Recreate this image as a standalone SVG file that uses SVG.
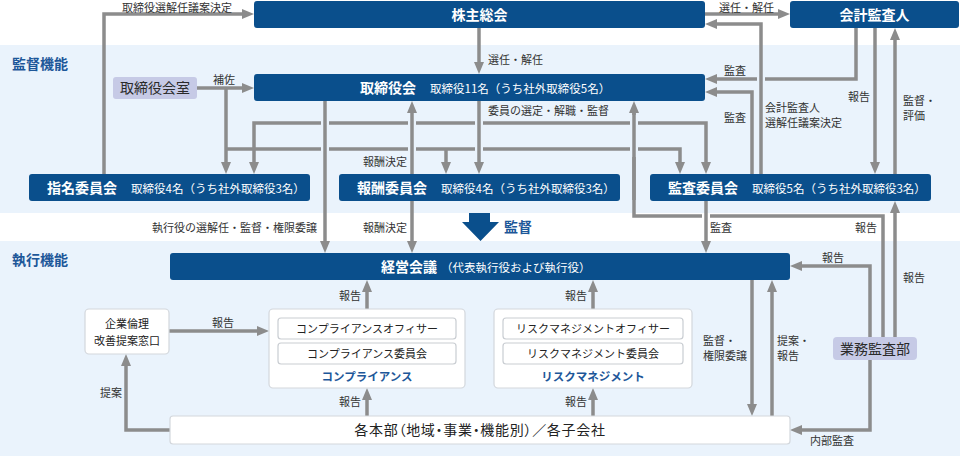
<svg xmlns="http://www.w3.org/2000/svg" width="960" height="456" viewBox="0 0 960 456">
<defs>
<style>
text{font-family:"Noto Sans CJK JP","Noto Sans",sans-serif;}
.band{fill:#eaf3fc;}
.sec{font-size:14px;font-weight:bold;fill:#1d5799;}
.nb{fill:#0a4f8c;}
.nt{font-size:14px;font-weight:bold;fill:#ffffff;}
.ns{font-size:11.5px;fill:#ffffff;}
.lav{fill:#c6cae6;}
.lt{font-size:14px;fill:#2a2a2a;}
.wb{fill:#ffffff;stroke:#d3d7dc;stroke-width:1.2;}
.ib{fill:#ffffff;stroke:#c9cdd2;stroke-width:1.2;}
.it{font-size:11px;fill:#222;}
.ct{font-size:11.5px;font-weight:bold;fill:#1d5799;}
.lbl{font-size:11px;fill:#333;}
.c{fill:none;stroke:#8c8c8c;stroke-width:3.5;}
.ca{fill:none;stroke:#8c8c8c;stroke-width:3.5;marker-end:url(#ah);}
.cb{fill:none;stroke:#8c8c8c;stroke-width:3.5;marker-end:url(#ah);marker-start:url(#ahs);}
.halo{fill:none;stroke:#eaf3fc;stroke-width:8;}
.haloW{fill:none;stroke:#ffffff;stroke-width:8;}
</style>
<marker id="ah" markerWidth="12" markerHeight="10" refX="0" refY="5" orient="auto" markerUnits="userSpaceOnUse" viewBox="0 0 12 10"><path d="M0,0 L12,5 L0,10 z" fill="#8c8c8c"/></marker>
<marker id="ahs" markerWidth="12" markerHeight="10" refX="0" refY="5" orient="auto-start-reverse" markerUnits="userSpaceOnUse" viewBox="0 0 12 10"><path d="M0,0 L12,5 L0,10 z" fill="#8c8c8c"/></marker>
</defs>

<rect x="0" y="0" width="960" height="456" fill="#ffffff"/>
<rect class="band" x="0" y="45" width="960" height="168"/>
<rect class="band" x="0" y="241" width="960" height="215"/>
<text class="sec" x="12" y="69">監督機能</text>
<text class="sec" x="12" y="265">執行機能</text>

<g id="connectors">
<path class="ca" d="M104,174 V14 H242"/>
<path class="ca" d="M479,28 V62"/>
<path class="ca" d="M705,14 H778"/>
<path class="ca" d="M856,28 V79 H717"/>
<path class="ca" d="M752,174 V92 H717"/>
<path class="ca" d="M875,28 V162"/>
<path class="ca" d="M895,174 V40"/>
<path class="cb" d="M254,162 V123 H706 V162"/>
<path class="ca" d="M197,88 H242"/>
<path class="ca" d="M226,88 V162"/>
<path class="ca" d="M226,149 H680 V162"/>
<path class="ca" d="M446,149 V162"/>
<path class="ca" d="M883,337 V216 H634 V113"/>
<path class="halo" d="M325,115 V157"/>
<path class="halo" d="M412,115 V157"/>
<path class="halo" d="M479,115 V157"/>
<path class="halo" d="M634,115 V157"/>
<path class="halo" d="M761,70 V88"/>
<path class="haloW" d="M706,213.5 V219"/>
<path class="ca" d="M761,174 V24 H717"/>
<path class="ca" d="M479,101 V162"/>
<path class="ca" d="M325,101 V241"/>
<path class="ca" d="M412,174 V113"/>
<path class="ca" d="M412,201 V241"/>
<path class="ca" d="M706,201 V241"/>
<path class="c" d="M634,200 V113"/>
<path class="ca" d="M895,337 V213"/>
<path class="ca" d="M870,337 V266 H802"/>
<path class="ca" d="M870,360 V430 H802"/>
<path class="ca" d="M752,280 V404"/>
<path class="ca" d="M772,416 V292"/>
<path class="ca" d="M367,309 V292"/>
<path class="ca" d="M367,416 V400"/>
<path class="ca" d="M593,309 V292"/>
<path class="ca" d="M593,416 V400"/>
<path class="ca" d="M169,331 H257"/>
<path class="ca" d="M170,430 H126 V366"/>

<text class="lbl" x="122" y="12">取締役選解任議案決定</text>
<text class="lbl" x="719" y="12">選任・解任</text>
<text class="lbl" x="488" y="64">選任・解任</text>
<text class="lbl" x="213" y="84">補佐</text>
<text class="lbl" x="724" y="75">監査</text>
<text class="lbl" x="724" y="122">監査</text>
<text class="lbl" x="765" y="112">会計監査人</text>
<text class="lbl" x="765" y="127">選解任議案決定</text>
<text class="lbl" x="848" y="101">報告</text>
<text class="lbl" x="903" y="105">監督・</text>
<text class="lbl" x="903" y="120">評価</text>
<text class="lbl" x="488" y="115">委員の選定・解職・監督</text>
<text class="lbl" x="363" y="166">報酬決定</text>
<text class="lbl" x="152" y="232">執行役の選解任・監督・権限委譲</text>
<text class="lbl" x="363" y="232">報酬決定</text>
<text class="lbl" x="710" y="232">監査</text>
<text class="lbl" x="855" y="232">報告</text>
<text class="lbl" x="822" y="262">報告</text>
<text class="lbl" x="903" y="282">報告</text>
<text class="lbl" x="703" y="345">監督・</text>
<text class="lbl" x="703" y="360">権限委譲</text>
<text class="lbl" x="777" y="345">提案・</text>
<text class="lbl" x="777" y="360">報告</text>
<text class="lbl" x="339" y="300">報告</text>
<text class="lbl" x="339" y="406">報告</text>
<text class="lbl" x="565" y="300">報告</text>
<text class="lbl" x="565" y="406">報告</text>
<text class="lbl" x="212" y="327">報告</text>
<text class="lbl" x="100" y="397">提案</text>
<text class="lbl" x="810" y="445">内部監査</text>
</g>

<g id="kansa-arrow">
<path d="M469,213 H490 V222 H499 L480.5,241 L462,222 H469 Z" fill="#0a4f8c"/>
<text class="sec" x="504" y="232">監督</text>
</g>

<g id="kabunushi">
<rect class="nb" x="254" y="1" width="451" height="27" rx="3"/>
<text class="nt" x="479.5" y="19.5" text-anchor="middle">株主総会</text>
</g>
<g id="kaikei">
<rect class="nb" x="790" y="1" width="169" height="27" rx="3"/>
<text class="nt" x="874.5" y="19.5" text-anchor="middle">会計監査人</text>
</g>
<g id="torishimariyakukai">
<rect class="nb" x="254" y="74" width="451" height="27" rx="3"/>
<text x="360" y="92.5"><tspan class="nt">取締役会</tspan><tspan class="ns" dx="14">取締役11名（うち社外取締役5名）</tspan></text>
</g>
<g id="torishitsu">
<rect class="lav" x="113" y="77" width="84" height="22" rx="3"/>
<text class="lt" x="155" y="93" text-anchor="middle">取締役会室</text>
</g>
<g id="shimei">
<rect class="nb" x="29" y="174" width="281" height="27" rx="3"/>
<text x="47" y="192.5"><tspan class="nt">指名委員会</tspan><tspan class="ns" dx="14">取締役4名（うち社外取締役3名）</tspan></text>
</g>
<g id="hoshu">
<rect class="nb" x="339" y="174" width="281" height="27" rx="3"/>
<text x="357" y="192.5"><tspan class="nt">報酬委員会</tspan><tspan class="ns" dx="14">取締役4名（うち社外取締役3名）</tspan></text>
</g>
<g id="kansa">
<rect class="nb" x="650" y="174" width="281" height="27" rx="3"/>
<text x="668" y="192.5"><tspan class="nt">監査委員会</tspan><tspan class="ns" dx="14">取締役5名（うち社外取締役3名）</tspan></text>
</g>
<g id="keiei">
<rect class="nb" x="170" y="253" width="620" height="27" rx="3"/>
<text x="381" y="271.5"><tspan class="nt">経営会議</tspan><tspan class="ns" dx="4">（代表執行役および執行役）</tspan></text>
</g>
<g id="kigyorinri">
<rect class="wb" x="85" y="309" width="84" height="45" rx="4"/>
<text class="it" x="127" y="328" text-anchor="middle">企業倫理</text>
<text class="it" x="127" y="345" text-anchor="middle">改善提案窓口</text>
</g>
<g id="compliance">
<rect class="wb" x="269" y="309" width="196" height="79" rx="4"/>
<rect class="ib" x="278" y="318" width="178" height="21" rx="3"/>
<text class="it" x="367" y="332.5" text-anchor="middle">コンプライアンスオフィサー</text>
<rect class="ib" x="278" y="343" width="178" height="21" rx="3"/>
<text class="it" x="367" y="357.5" text-anchor="middle">コンプライアンス委員会</text>
<text class="ct" x="367" y="380.5" text-anchor="middle">コンプライアンス</text>
</g>
<g id="risk">
<rect class="wb" x="494" y="309" width="198" height="79" rx="4"/>
<rect class="ib" x="503" y="318" width="180" height="21" rx="3"/>
<text class="it" x="593" y="332.5" text-anchor="middle">リスクマネジメントオフィサー</text>
<rect class="ib" x="503" y="343" width="180" height="21" rx="3"/>
<text class="it" x="593" y="357.5" text-anchor="middle">リスクマネジメント委員会</text>
<text class="ct" x="593" y="380.5" text-anchor="middle">リスクマネジメント</text>
</g>
<g id="honbu">
<rect class="wb" x="170" y="416" width="620" height="28" rx="3"/>
<text x="480" y="435" text-anchor="middle" style="font-size:14px;fill:#222;font-feature-settings:'palt';letter-spacing:0.7px;">各本部（地域・事業・機能別）／各子会社</text>
</g>
<g id="gyomukansa">
<rect class="lav" x="833" y="337" width="84" height="23" rx="4"/>
<text class="lt" x="875" y="353.5" text-anchor="middle">業務監査部</text>
</g>
</svg>
